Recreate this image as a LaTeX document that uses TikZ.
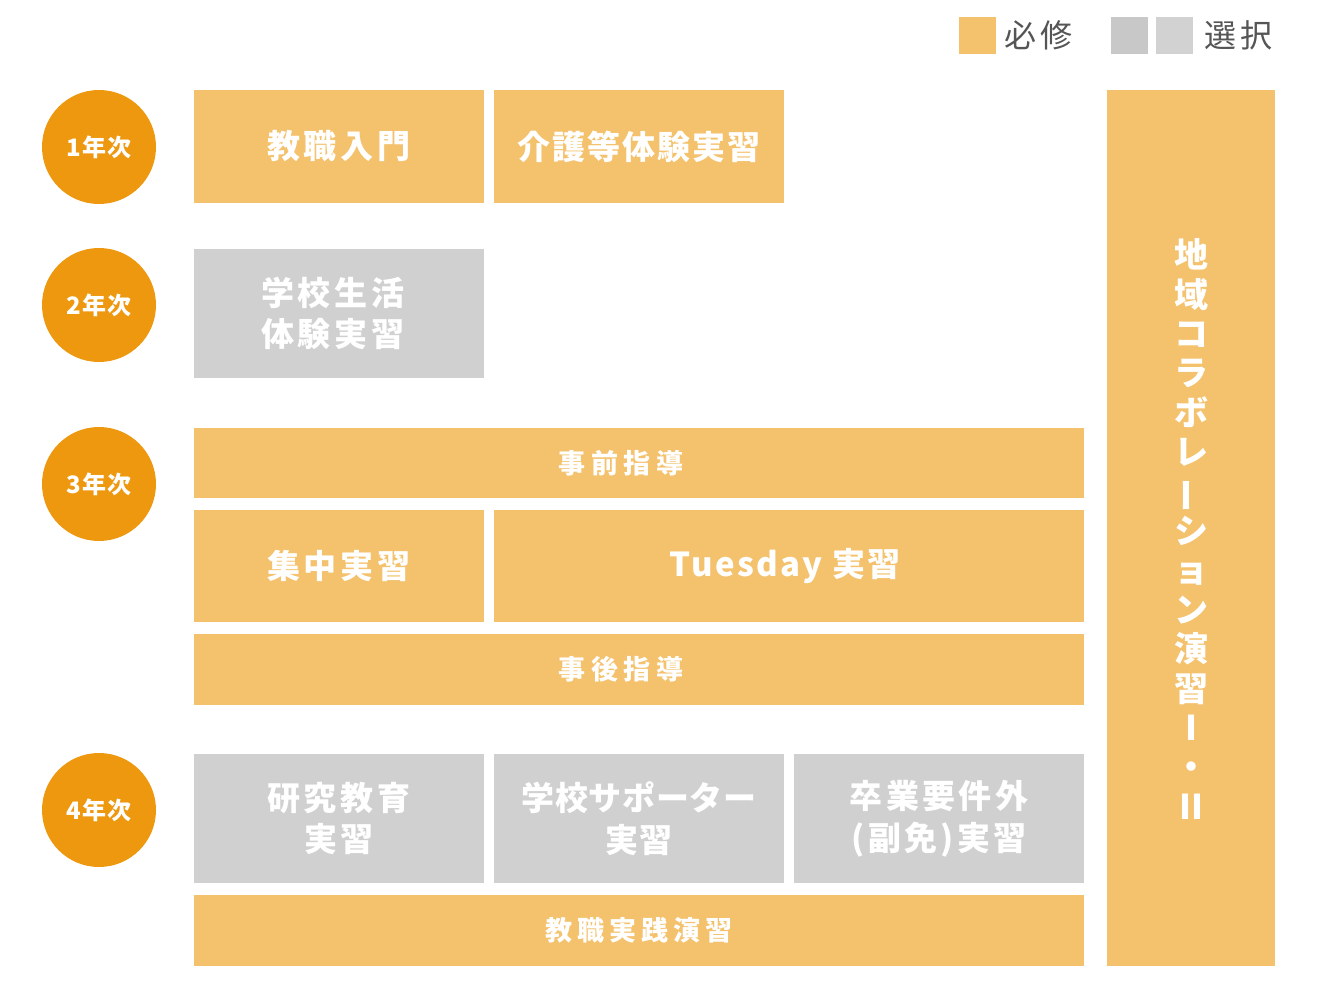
\documentclass[tikz,border=0pt]{standalone}
\usepackage{fontspec}
\usepackage{graphicx}
\newfontfamily\jp{Noto Sans CJK JP}
\definecolor{req}{HTML}{F4C16C}
\definecolor{opt}{HTML}{D0D0D0}
\definecolor{optA}{HTML}{C8C8C8}
\definecolor{optB}{HTML}{D2D2D2}
\definecolor{yr}{HTML}{EE980F}
\definecolor{lgtext}{HTML}{555555}
\newcommand\jpset[3]{\jp\bfseries\fontsize{#1}{#2}\selectfont\addfontfeature{LetterSpace=#3}}
\tikzset{
  req/.style={fill=req, draw=none, text=white, inner sep=0pt, align=center},
  opt/.style={fill=opt, draw=none, text=white, inner sep=0pt, align=center},
  lbl/.style={text=white, inner sep=0pt, align=center},
  yearc/.style={circle, fill=yr, draw=none, text=white, inner sep=0pt, minimum size=114pt,
     font={\jpset{24}{28}{6}}},
  big/.style={font={\jpset{33}{41}{12}}},
  band/.style={font={\jpset{27}{32}{21}}},
  lgsq/.style={draw=none, inner sep=0pt, minimum size=37pt},
  lgtx/.style={text=lgtext, inner sep=0pt, anchor=west, font={\jp\fontsize{32}{36}\selectfont\addfontfeature{LetterSpace=12}}}
}
\begin{document}
\begin{tikzpicture}[x=1pt,y=-1pt]
\path[use as bounding box] (0,0) rectangle (1328,1000);
% legend
\node[lgsq, fill=req] (lreq) at (977.5,35.5) {};
\node[lgtx] (lreqt) at (1004,35.5) {必修};
\node[lgsq, fill=optA] (lopa) at (1129.5,35.5) {};
\node[lgsq, fill=optB] (lopb) at (1174.5,35.5) {};
\node[lgtx] (lopt) at (1204,35.5) {選択};
% year circles
\node[yearc] (y1) at (99,147) {1年次};
\node[yearc] (y2) at (99,305) {2年次};
\node[yearc] (y3) at (99,484) {3年次};
\node[yearc] (y4) at (99,810) {4年次};
% year 1
\node[req, big, minimum width=290pt, minimum height=113pt] (k1) at (339,146.5) {教職入門};
\node[req, big, minimum width=290pt, minimum height=113pt, font={\jpset{33}{41}{6}}] (k2) at (639,146.5) {介護等体験実習};
% year 2
\node[opt, minimum width=290pt, minimum height=129pt] (g2) at (339,313.5) {};
\node[lbl, big] (g2t) at (333,313.5) {学校生活\\体験実習};
% year 3
\node[req, minimum width=890pt, minimum height=70pt] (pre) at (639,463) {};
\node[lbl, band] (pret) at (621,463) {事前指導};
\node[req, big, minimum width=290pt, minimum height=112pt] (c1) at (339,566) {集中実習};
\node[req, minimum width=590pt, minimum height=112pt] (tue) at (789,566) {};
\node[lbl, font={\jpset{33}{41}{7}}] (tuet) at (785,566) {Tuesday 実習};
\node[req, minimum width=890pt, minimum height=71pt] (post) at (639,669.5) {};
\node[lbl, band] (postt) at (621,669.5) {事後指導};
% year 4
\node[opt, big, minimum width=290pt, minimum height=129pt] (r1) at (339,818.5) {研究教育\\実習};
\node[opt, big, minimum width=290pt, minimum height=129pt, font={\jpset{33}{42}{2}}] (r2) at (639,818.5) {学校サポーター\\実習};
\node[opt, big, minimum width=290pt, minimum height=129pt, font={\jpset{33}{42}{10}}] (r3) at (939,818.5) {卒業要件外\\(副免)実習};
\node[req, band, minimum width=890pt, minimum height=71pt, font={\jpset{27}{32}{18}}] (prac) at (639,930.5) {教職実践演習};
% vertical bar
\node[req, minimum width=168pt, minimum height=876pt] (vbar) at (1191,528) {};
\node[lbl, font={\jpset{34}{39.4}{0}}] (vtext) at (1191,529)
  {地\\域\\コ\\ラ\\ボ\\レ\\\rotatebox[origin=c]{90}{ー}\\シ\\ョ\\ン\\演\\習\\Ⅰ\\・\\Ⅱ};
\end{tikzpicture}
\end{document}
